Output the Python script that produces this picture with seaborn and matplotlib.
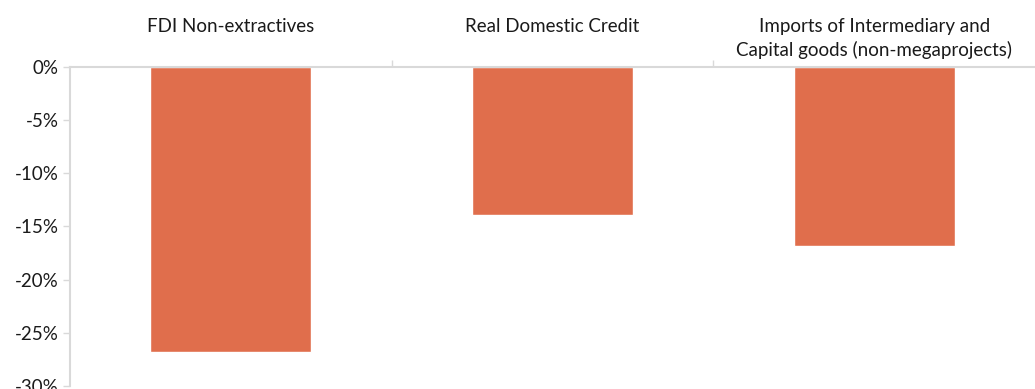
import seaborn as sns
import matplotlib.pyplot as plt
import pandas as pd

categories = ["FDI Non-extractives", "Real Domestic Credit",
              "Imports of Intermediary and\nCapital goods (non-megaprojects)"]
values = [-26.8, -13.9, -16.8]
yticks = [0, -5, -10, -15, -20, -25, -30]

sns.set_style("white")
plt.rcParams['font.family'] = ['Lato', 'DejaVu Sans']

df = pd.DataFrame({"cat": categories, "val": values})

fig = plt.figure(figsize=(10.35, 3.89), dpi=100)
ax = fig.add_axes([0.0676, 0.0077, 0.9324, 0.8201])
sns.barplot(data=df, x="cat", y="val", color="#E06E4C", saturation=1,
            width=0.5, ax=ax)

grey = "#D9D9D9"
ax.set_ylim(-30, 0)
ax.set_xlim(-0.5, 2.5)
ax.set_yticks(yticks)
ax.set_yticklabels([f"{v}%" for v in yticks], fontsize=13.5, color="#1a1a1a")
ax.set_xlabel("")
ax.set_ylabel("")

# category labels on top, ticks between categories
ax.xaxis.tick_top()
ax.set_xticks([0, 1, 2])
ax.set_xticklabels(categories, fontsize=13.5, color="#1a1a1a", va="top",
                   linespacing=1.4)
ax.set_xticks([0.5, 1.5], minor=True)
ax.tick_params(axis="x", which="major", length=0, pad=35)
ax.tick_params(axis="x", which="minor", length=5, width=1, color=grey,
               direction="out", top=True, bottom=False)
ax.tick_params(axis="y", length=5, width=1, color=grey, direction="out",
               left=True, pad=3)

for side in ["right", "bottom"]:
    ax.spines[side].set_visible(False)
for side in ["left", "top"]:
    ax.spines[side].set_color(grey)
    ax.spines[side].set_linewidth(1.5)

fig.savefig("out.png", dpi=100)
